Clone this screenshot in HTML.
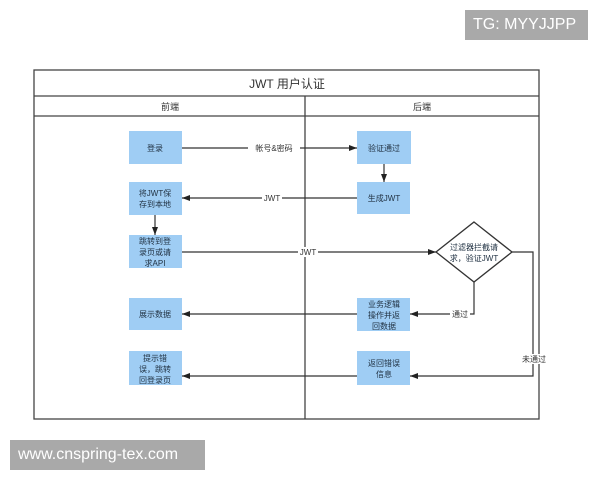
<!DOCTYPE html>
<html><head><meta charset="utf-8"><style>
body{margin:0;width:600px;height:480px;background:#fff;overflow:hidden;position:relative;font-family:"Liberation Sans","Noto Sans CJK SC",sans-serif;}
.wm{position:absolute;background:#a9a9a9;color:#fff;font-size:16px;line-height:30px;padding:0 8px;}
</style></head><body>
<div class="wm" style="left:465px;top:10px;width:107px;">TG: MYYJJPP</div>
<div class="wm" style="left:10px;top:440px;width:179px;">www.cnspring-tex.com</div>
<svg width="600" height="480" style="position:absolute;left:0;top:0" font-family="Liberation Sans,Noto Sans CJK SC,sans-serif">
<defs><marker id="a" markerWidth="8" markerHeight="6" refX="8" refY="3" orient="auto" markerUnits="userSpaceOnUse"><path d="M0,0L8,3L0,6z" fill="#222"/></marker></defs>
<g fill="none" stroke="#444" stroke-width="1.3">
<rect x="34" y="70" width="505" height="349"/>
<line x1="34" y1="96" x2="539" y2="96"/>
<line x1="34" y1="116" x2="539" y2="116"/>
<line x1="305" y1="96" x2="305" y2="419"/>
</g>
<g font-size="11" fill="#333" text-anchor="middle">
<text x="287" y="88" font-size="12">JWT 用户认证</text>
<text x="170" y="110" font-size="9">前端</text>
<text x="422" y="110" font-size="9">后端</text>
</g>
<g fill="#9fcdf4">
<rect x="129" y="131" width="53" height="33"/>
<rect x="357" y="131" width="54" height="33"/>
<rect x="129" y="182" width="53" height="33"/>
<rect x="357" y="182" width="53" height="32"/>
<rect x="129" y="235" width="53" height="33"/>
<rect x="129" y="298" width="53" height="32"/>
<rect x="357" y="298" width="53" height="33"/>
<rect x="129" y="351" width="53" height="34"/>
<rect x="357" y="351" width="53" height="34"/>
</g>
<polygon points="474,222 512,252 474,282 436,252" fill="#fff" stroke="#333" stroke-width="1.3"/>
<g stroke="#333" stroke-width="1.2" fill="none">
<line x1="182" y1="148" x2="357" y2="148" marker-end="url(#a)"/>
<line x1="384" y1="164" x2="384" y2="182" marker-end="url(#a)"/>
<line x1="357" y1="198" x2="182" y2="198" marker-end="url(#a)"/>
<line x1="155" y1="215" x2="155" y2="235" marker-end="url(#a)"/>
<line x1="182" y1="252" x2="436" y2="252" marker-end="url(#a)"/>
<polyline points="474,282 474,314 410,314" marker-end="url(#a)"/>
<line x1="357" y1="314" x2="182" y2="314" marker-end="url(#a)"/>
<polyline points="512,252 533,252 533,376 410,376" marker-end="url(#a)"/>
<line x1="357" y1="376" x2="182" y2="376" marker-end="url(#a)"/>
</g>
<g font-size="8" fill="#333" text-anchor="middle">
<rect x="248" y="143" width="52" height="10" fill="#fff"/><text x="274" y="151">帐号&amp;密码</text>
<rect x="262" y="193" width="20" height="10" fill="#fff"/><text x="272" y="201">JWT</text>
<rect x="298" y="247" width="20" height="10" fill="#fff"/><text x="308" y="255">JWT</text>
<rect x="450" y="309" width="20" height="10" fill="#fff"/><text x="460" y="317">通过</text>
<rect x="520" y="354" width="28" height="10" fill="#fff"/><text x="534" y="362">未通过</text>
</g>
<g font-size="8" fill="#234" text-anchor="middle">
<text x="155" y="151">登录</text>
<text x="384" y="151">验证通过</text>
<text x="155" y="196">将JWT保</text><text x="155" y="207">存到本地</text>
<text x="384" y="201">生成JWT</text>
<text x="155" y="244">跳转到登</text><text x="155" y="255">录页或请</text><text x="155" y="266">求API</text>
<text x="474" y="250">过滤器拦截请</text><text x="474" y="261">求，验证JWT</text>
<text x="155" y="317">展示数据</text>
<text x="384" y="307">业务逻辑</text><text x="384" y="318">操作并返</text><text x="384" y="329">回数据</text>
<text x="155" y="361">提示错</text><text x="155" y="372">误，跳转</text><text x="155" y="383">回登录页</text>
<text x="384" y="366">返回错误</text><text x="384" y="377">信息</text>
</g>
</svg>
</body></html>
